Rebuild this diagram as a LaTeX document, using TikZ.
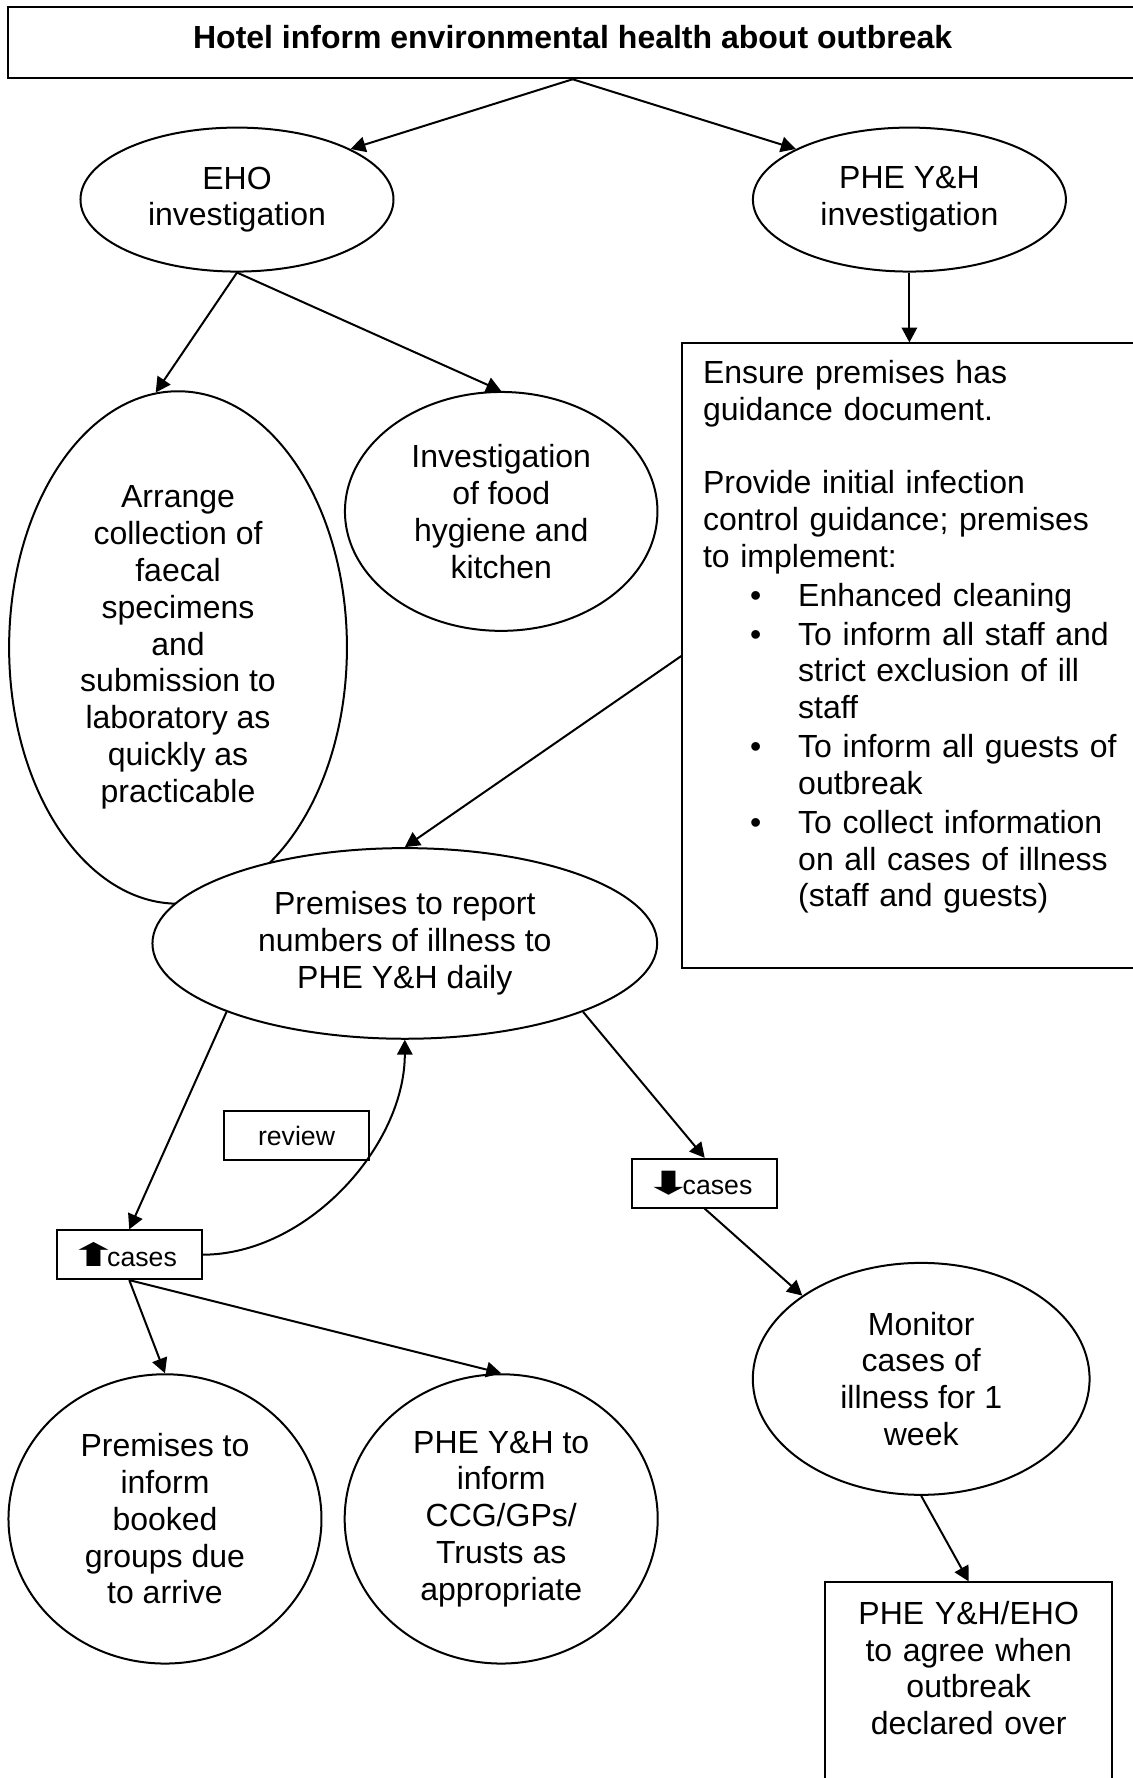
\documentclass[tikz,border=0pt]{standalone}
\usepackage{fontspec}
\setmainfont{Liberation Sans}
\newfontfamily\arrowfont{DejaVu Sans}
\usepackage{graphicx}
\usepackage{enumitem}
\usetikzlibrary{arrows.meta,shapes.geometric}
\tikzset{
  oval/.style={ellipse,draw,line width=0.75pt,fill=white,inner sep=0pt,align=center},
  plainbox/.style={rectangle,draw,line width=0.75pt,fill=white},
  smallbox/.style={plainbox,minimum width=54.2pt,minimum height=18.3pt,inner sep=0pt,
    font=\fontsize{10}{11.5}\selectfont},
  flow/.style={line width=0.75pt,-{Triangle[length=5.6pt,width=5.8pt]}},
}
\newcommand{\casesup}{\kern-5.1pt\scalebox{1.9}[1]{\arrowfont\fontsize{12}{12}\selectfont ⬆}\kern-4.4pt cases}
\newcommand{\casesdown}{\kern-5.1pt\scalebox{1.9}[1]{\arrowfont\fontsize{12}{12}\selectfont ⬇}\kern-4.4pt cases}

\begin{document}
\begin{tikzpicture}[x=0.4253pt,y=-0.4253pt,font=\fontsize{12}{13.8}\selectfont]
\clip (0,0) rectangle (999,1568);
% first report and the two investigations
\node[plainbox,minimum width=423.2pt,minimum height=26.8pt,text height=8.75pt,text depth=4.5pt,
  font=\fontsize{12}{13.8}\selectfont\bfseries] (hotel) at (505,37.5)
  {Hotel inform environmental health about outbreak};
\node[oval,minimum width=117.4pt,minimum height=54pt] (eho) at (209,176) {EHO\\investigation};
\node[oval,minimum width=117.4pt,minimum height=54pt] (phe) at (802,176) {PHE Y\&H\\investigation};
% EHO side
\node[oval,minimum width=126.7pt,minimum height=192.2pt] (arrange) at (157,571)
  {Arrange\\collection of\\faecal\\specimens\\and\\submission to\\laboratory as\\quickly as\\practicable};
\node[oval,minimum width=117.2pt,minimum height=89.6pt] (food) at (442,451)
  {Investigation\\of food\\hygiene and\\kitchen};
% PHE side: guidance to the premises
\node[plainbox,anchor=north west,inner xsep=7.7pt,inner ysep=6.2pt,text width=163pt,
  align=left,text height=8.75pt,text depth=213.2pt] (guide) at (601,302)
  {Ensure premises has\\guidance document.\\[13.8pt]
   Provide initial infection\\control guidance; premises\\to implement:
   \begin{itemize}[leftmargin=35.7pt,labelsep=13.8pt,topsep=0.8pt,partopsep=0pt,
     parsep=0pt,itemsep=0.8pt]
   \item Enhanced cleaning
   \item To inform all staff and\\strict exclusion of ill\\staff
   \item To inform all guests of\\outbreak
   \item To collect information\\on all cases of illness\\(staff and guests)
   \end{itemize}};
% daily reporting
\node[oval,minimum width=189.3pt,minimum height=71.5pt] (report) at (357,832)
  {Premises to report\\numbers of illness to\\PHE Y\&H daily};
\node[smallbox] (review) at (261.5,1001.5) {review};
\node[smallbox] (upcase) at (114,1106.5) {\casesup};
\node[smallbox] (downcase) at (621.5,1043.5) {\casesdown};
% outcomes
\node[oval,minimum width=126.3pt,minimum height=87pt] (monitor) at (812.4,1216)
  {Monitor\\cases of\\illness for 1\\week};
\node[oval,minimum width=117.4pt,minimum height=108.5pt] (informa) at (145.5,1339.5)
  {Premises to\\inform\\booked\\groups due\\to arrive};
\node[oval,minimum width=117.4pt,minimum height=108.5pt] (informb) at (442,1339.5)
  {PHE Y\&H to\\inform\\CCG/GPs/\\Trusts as\\appropriate};
\node[plainbox,anchor=north,inner xsep=4pt,inner ysep=6.9pt,text width=99.8pt,
  align=center,text height=8.8pt,text depth=90pt] (final) at (854.3,1394.6)
  {PHE Y\&H/EHO\\to agree when\\outbreak\\declared over};
% connectors
\draw[flow] (hotel.south) -- (eho.24);
\draw[flow] (hotel.south) -- (phe.156);
\draw[flow] (eho.south) -- (arrange.95);
\draw[flow] (eho.south) -- (food.north);
\draw[flow] (phe.south) -- (phe.south |- guide.north);
\draw[flow] (guide.west) -- (report.north);
\draw[flow] (report.201) -- (upcase.north);
\draw[flow] (upcase.east) .. controls +(92,0) and +(0,94) .. (report.south);
\draw[flow] (report.339) -- (downcase.north);
\draw[flow] (downcase.south) -- (monitor.145);
\draw[flow] (monitor.south) -- (final.north);
\draw[flow] (upcase.south) -- (informa.north);
\draw[flow] (upcase.south) -- (informb.north);
\end{tikzpicture}
\end{document}
